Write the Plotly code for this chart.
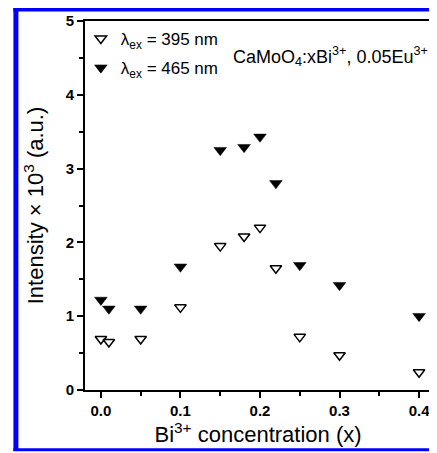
import plotly.graph_objects as go

x_conc = [0.0, 0.01, 0.05, 0.10, 0.15, 0.18, 0.20, 0.22, 0.25, 0.30, 0.40]
int_395 = [0.69, 0.65, 0.69, 1.12, 1.95, 2.08, 2.20, 1.65, 0.72, 0.47, 0.24]
int_465 = [1.22, 1.10, 1.10, 1.67, 3.25, 3.29, 3.43, 2.80, 1.69, 1.42, 1.00]

x_ticks = [0.0, 0.1, 0.2, 0.3, 0.4]
x_ticklabels = ["0.0", "0.1", "0.2", "0.3", "0.4"]
y_ticks = [0, 1, 2, 3, 4, 5]
y_ticklabels = ["0", "1", "2", "3", "4", "5"]

FONT = "Liberation Sans, Arial, sans-serif"

fig = go.Figure()
fig.add_trace(go.Scatter(
    x=x_conc, y=int_395, mode="markers", name="λ<sub>ex</sub> = 395 nm",
    legendgroup="a",
    marker=dict(symbol="triangle-down-open", size=10, color="black",
                line=dict(width=1.5, color="black")),
))
fig.add_trace(go.Scatter(
    x=x_conc, y=int_465, mode="markers", name="λ<sub>ex</sub> = 465 nm",
    legendgroup="b",
    marker=dict(symbol="triangle-down", size=11, color="black",
                line=dict(width=0.5, color="black")),
))

axis_common = dict(
    showline=True, linecolor="black", linewidth=2, mirror=True,
    ticks="outside", ticklen=6, tickwidth=2, tickcolor="black",
    showgrid=False, zeroline=False,
    tickfont=dict(family=FONT, size=15, color="black", weight="bold"),
)

fig.update_layout(
    width=429, height=445,
    margin=dict(l=77, r=4, t=12, b=63),
    paper_bgcolor="white", plot_bgcolor="white",
    font=dict(family=FONT, color="black"),
    xaxis=dict(
        range=[-0.02, 0.415], tickvals=x_ticks, ticktext=x_ticklabels,
        minor=dict(dtick=0.05, tick0=0, ticks="outside", ticklen=4, tickwidth=2, tickcolor="black"),
        title=dict(text="Bi<sup>3+</sup> concentration (x)", font=dict(family=FONT, size=22), standoff=3),
        **axis_common,
    ),
    yaxis=dict(
        range=[0, 5], tickvals=y_ticks, ticktext=y_ticklabels,
        minor=dict(dtick=0.5, tick0=0, ticks="outside", ticklen=4, tickwidth=2, tickcolor="black"),
        title=dict(text="Intensity × 10<sup>3</sup> (a.u.)", font=dict(family=FONT, size=22), standoff=16),
        **axis_common,
    ),
    showlegend=True,
    legend=dict(
        x=-0.012, y=1.0, xanchor="left", yanchor="top",
        bgcolor="rgba(0,0,0,0)", font=dict(family=FONT, size=17),
        tracegroupgap=4, itemwidth=30,
    ),
    annotations=[dict(
        text="CaMoO<sub>4</sub>:xBi<sup>3+</sup>, 0.05Eu<sup>3+</sup>",
        xref="paper", yref="paper", x=0.997, y=0.905, xanchor="right", yanchor="middle",
        showarrow=False, font=dict(family=FONT, size=18, color="black"),
    )],
    shapes=[
        dict(type="line", xref="paper", yref="paper", x0=-0.1997, x1=-0.1997, y0=1.04, y1=-0.165,
             line=dict(color="blue", width=5)),
        dict(type="line", xref="paper", yref="paper", x0=-0.207, x1=1.05, y0=1.031, y1=1.031,
             line=dict(color="blue", width=4)),
        dict(type="line", xref="paper", yref="paper", x0=-0.207, x1=1.05, y0=-0.162, y1=-0.162,
             line=dict(color="blue", width=3)),
    ],
)

fig.write_html("out.html")
